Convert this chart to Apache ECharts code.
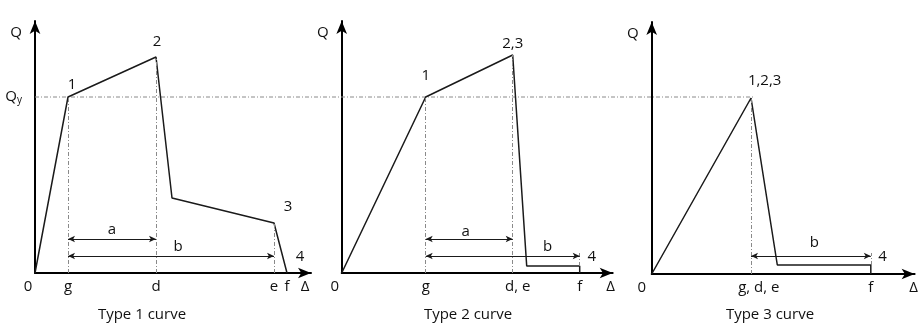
<!DOCTYPE html>
<html>
<head>
<meta charset="utf-8">
<script src="https://cdn.jsdelivr.net/npm/echarts@6/dist/echarts.min.js"></script>
<style>
    html, body {margin: 0; padding: 0; background: #fff;}
    #main {width: 921px; height: 325px;}
</style>
</head>
<body>
<div id="main"></div>
<script>
// Type 1 curve
var curve1 = [[0, 0], [3.3, 17.6], [12.1, 21.6], [13.7, 7.5], [23.9, 5.0], [25.2, 0]];
var ticks1 = [0, 3.3, 12.1, 23.9, 25.2, 27.0];
var tickNames1 = ['0', 'g', 'd', 'e', 'f', 'Δ'];
var guides1 = [[3.3, 0, 17.6], [12.1, 0, 21.6], [23.9, 0, 5.0]];
var dims1 = [[3.3, 12.1, 3.4], [3.3, 23.9, 1.7]];
var notes1 = [['1', 3.7, 18.8], ['2', 12.2, 23.1], ['3', 25.3, 6.6], ['4', 26.5, 1.6], ['a', 7.7, 4.3], ['b', 14.3, 2.6]];

// Type 2 curve
var curve2 = [[0, 0], [8.4, 17.6], [17.1, 21.8], [18.5, 0.7], [23.8, 0.7], [23.8, 0]];
var ticks2 = [0, 8.4, 17.6, 23.8, 26.9];
var tickNames2 = ['0', 'g', 'd, e', 'f', 'Δ'];
var guides2 = [[8.4, 0, 17.6], [17.1, 0, 21.8], [23.8, 0.7, 2.1]];
var dims2 = [[8.4, 17.1, 3.4], [8.4, 23.8, 1.7]];
var notes2 = [['1', 8.4, 19.7], ['2,3', 17.1, 22.9], ['4', 25.0, 1.6], ['a', 12.4, 4.1], ['b', 20.6, 2.6]];

// Type 3 curve
var curve3 = [[0, 0], [10.2, 17.6], [12.9, 0.9], [22.5, 0.9], [22.5, 0]];
var ticks3 = [0, 11.0, 22.5, 26.9];
var tickNames3 = ['0', 'g, d, e', 'f', 'Δ'];
var guides3 = [[10.2, 0, 17.6], [22.5, 0.9, 2.1]];
var dims3 = [[10.2, 22.5, 1.8]];
var notes3 = [['1,2,3', 11.6, 19.3], ['4', 23.7, 1.7], ['b', 16.7, 3.1]];

// Qy level, one dashed line from the first Q axis to the type 3 peak
var qy = 17.6;
var qyLine = [[0, qy], [1, qy]];
var titles = ['Type 1 curve', 'Type 2 curve', 'Type 3 curve'];

var FONT = '"Open Sans", "DejaVu Sans", sans-serif';
var INK = '#111';
var GUIDE = '#8a8a8a';

function xAxisFor(i, max, ticks, names, zeroPad) {
    return {
        type: 'value', gridIndex: i, min: 0, max: max,
        splitLine: {show: false},
        axisTick: {show: false},
        axisLine: {
            onZero: false,
            symbol: ['none', 'arrow'], symbolSize: [8, 13],
            lineStyle: {color: '#000', width: 2}
        },
        axisLabel: {
            customValues: ticks,
            margin: 6,
            fontSize: 15, fontFamily: FONT, color: INK,
            formatter: function (v) {
                for (var j = 0; j < ticks.length; j++) {
                    if (Math.abs(ticks[j] - v) < 1e-6) {
                        return j === 0 ? '{z|' + names[j] + '}' : names[j];
                    }
                }
                return '';
            },
            rich: {
                z: {fontSize: 15, fontFamily: FONT, color: INK, padding: [0, zeroPad, 0, 0]}
            }
        }
    };
}

function yAxisFor(i, withQy) {
    var vals = withQy ? [qy, 24.0] : [24.0];
    return {
        type: 'value', gridIndex: i, min: 0, max: 25.2,
        splitLine: {show: false},
        axisTick: {show: false},
        axisLine: {
            onZero: false,
            symbol: ['none', 'arrow'], symbolSize: [8, 13],
            lineStyle: {color: '#000', width: 2}
        },
        axisLabel: {
            customValues: vals,
            margin: 13,
            fontSize: 15, fontFamily: FONT, color: INK,
            formatter: function (v) {
                return v === qy ? '{q|Q}{s|y}' : 'Q';
            },
            rich: {
                q: {fontSize: 15, fontFamily: FONT, color: INK},
                s: {fontSize: 10, fontFamily: FONT, color: INK, padding: [7, 0, 0, 0]}
            }
        }
    };
}

function panelSeries(i, curve, guides, dims, notes) {
    var list = [];
    list.push({
        type: 'line', xAxisIndex: i, yAxisIndex: i,
        data: curve, symbol: 'none', z: 4,
        lineStyle: {color: '#1a1a1a', width: 1.5}
    });
    list.push({
        type: 'line', xAxisIndex: i, yAxisIndex: i, data: [],
        markLine: {
            silent: true, symbol: 'none', label: {show: false},
            lineStyle: {color: GUIDE, width: 1, type: [4, 2, 1, 2]},
            data: guides.map(function (g) {
                return [{coord: [g[0], g[1]]}, {coord: [g[0], g[2]]}];
            })
        }
    });
    list.push({
        type: 'line', xAxisIndex: i, yAxisIndex: i, data: [],
        markLine: {
            silent: true, symbol: ['arrow', 'arrow'], symbolSize: [5, 7],
            label: {show: false},
            lineStyle: {color: '#1a1a1a', width: 1.2, type: 'solid'},
            data: dims.map(function (d) {
                return [{coord: [d[0], d[2]]}, {coord: [d[1], d[2]]}];
            })
        }
    });
    list.push({
        type: 'scatter', xAxisIndex: i, yAxisIndex: i, silent: true,
        symbolSize: 0,
        itemStyle: {color: INK, opacity: 1},
        data: notes.map(function (n) {
            return {name: n[0], value: [n[1], n[2]]};
        }),
        label: {
            show: true, position: 'inside', formatter: '{b}',
            fontSize: 15, fontFamily: FONT, color: INK,
            textBorderWidth: 0
        }
    });
    return list;
}

var series = [].concat(
    panelSeries(0, curve1, guides1, dims1, notes1),
    panelSeries(1, curve2, guides2, dims2, notes2),
    panelSeries(2, curve3, guides3, dims3, notes3)
);
series.push({
    type: 'line', xAxisIndex: 3, yAxisIndex: 3,
    data: qyLine, symbol: 'none', z: 1,
    lineStyle: {color: GUIDE, width: 1, type: [4, 2, 1, 2]}
});

var myChart = echarts.init(document.getElementById('main'));
myChart.setOption({
    animation: false,
    backgroundColor: '#fff',
    title: [
        {text: titles[0], left: 137, top: 302, textAlign: 'center'},
        {text: titles[1], left: 463, top: 302, textAlign: 'center'},
        {text: titles[2], left: 765, top: 302, textAlign: 'center'}
    ].map(function (t) {
        t.textStyle = {fontSize: 15, fontWeight: 'normal', fontFamily: FONT, color: INK};
        return t;
    }),
    grid: [
        {left: 35, top: 21, width: 276, height: 252},
        {left: 341.7, top: 21, width: 271, height: 252},
        {left: 651.7, top: 22, width: 270, height: 252},
        // overlay spanning the three panels, only for the Qy level
        {left: 35, top: 21, width: 719, height: 252}
    ],
    xAxis: [
        xAxisFor(0, 27.6, ticks1, tickNames1, 14),
        xAxisFor(1, 27.1, ticks2, tickNames2, 14),
        xAxisFor(2, 27.0, ticks3, tickNames3, 20),
        {type: 'value', gridIndex: 3, min: 0, max: 1, show: false}
    ],
    yAxis: [
        yAxisFor(0, true), yAxisFor(1, false), yAxisFor(2, false),
        {type: 'value', gridIndex: 3, min: 0, max: 25.2, show: false}
    ],
    series: series
});
</script>
</body>
</html>
